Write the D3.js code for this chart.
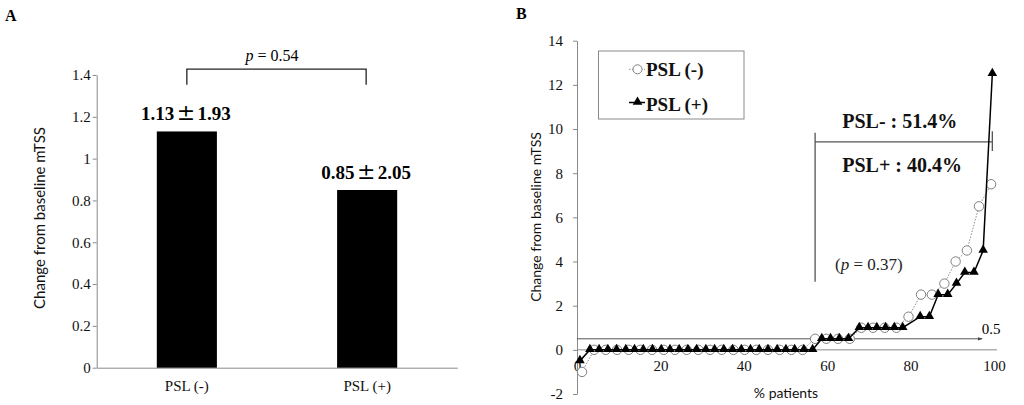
<!DOCTYPE html>
<html><head><meta charset="utf-8">
<script src="https://cdn.jsdelivr.net/npm/d3@7"></script>
<style>body{margin:0;background:#fff}svg{display:block}</style>
</head><body><svg id="c" width="1024" height="405"></svg>
<script>
// ---------- Panel A data ----------
const barCategories = ["PSL (-)", "PSL (+)"];
const barValues = [1.13, 0.85];
const barMeans = ["1.13", "0.85"];
const barSDs = ["1.93", "2.05"];
const barYTicks = [0, 0.2, 0.4, 0.6, 0.8, 1, 1.2, 1.4];
const pValueA = "0.54";

// ---------- Panel B data ----------
const pslMinusX = [1.2, 4.1, 6.9, 9.6, 12.4, 15.2, 18.0, 20.8, 23.5, 26.3, 29.1, 31.9, 34.7, 37.5, 40.2, 43.0, 45.8, 48.6, 51.4, 54.1,
  57.1, 59.8, 62.6, 65.4, 68.2, 71.0, 73.8, 76.6, 79.5, 82.5, 85.1, 88.1, 90.8, 93.5, 96.4, 99.3];
const pslMinusY = [-1, 0, 0, 0, 0, 0, 0, 0, 0, 0, 0, 0, 0, 0, 0, 0, 0, 0, 0, 0,
  0.5, 0.5, 0.5, 0.5, 1, 1, 1, 1, 1.5, 2.5, 2.5, 3, 4, 4.5, 6.5, 7.5];
const pslPlusX = [0.7, 3.1, 5.3, 7.4, 9.5, 11.7, 13.8, 15.9, 18.1, 20.2, 22.3, 24.5, 26.6, 28.7, 30.9, 33.0, 35.2, 37.3, 39.4, 41.6,
  43.7, 45.8, 48.0, 50.1, 52.2, 54.4, 56.5, 58.7, 60.8, 62.9, 65.1, 67.7, 69.8, 71.9, 74.0, 76.1, 78.1, 82.3, 84.5, 86.6,
  88.9, 91.0, 93.0, 95.2, 97.4, 99.6];
const pslPlusY = [-0.5, 0, 0, 0, 0, 0, 0, 0, 0, 0, 0, 0, 0, 0, 0, 0, 0, 0, 0, 0,
  0, 0, 0, 0, 0, 0, 0, 0.5, 0.5, 0.5, 0.5, 1, 1, 1, 1, 1, 1, 1.5, 1.5, 2.5,
  2.5, 3, 3.5, 3.5, 4.5, 12.5];
const curveXTicks = [0, 20, 40, 60, 80, 100];
const curveYTicks = [-2, 0, 2, 4, 6, 8, 10, 12, 14];
const seriesNames = ["PSL (-)", "PSL (+)"];
const threshold = 0.5;
const pctTexts = ["PSL- : 51.4%", "PSL+ : 40.4%"];
const pValueB = "0.37";

const svg = d3.select("#c");
const SERIF = "'Liberation Serif','Times New Roman',serif";
const SANS = "Lato,'Liberation Sans',sans-serif";
const AXIS = "#8a8a8a";

function styleAxis(g) {
  g.selectAll(".domain").attr("stroke", AXIS).attr("stroke-width", 1);
  g.selectAll(".tick line").attr("stroke", AXIS);
  g.selectAll(".tick text").attr("fill", "#111").style("font-family", SERIF).style("font-size", "15px");
}

// ================= Panel A =================
const yA = d3.scaleLinear().domain([0, 1.4]).range([367.7, 75]);
const xA = d3.scaleBand().domain(barCategories).range([96.7, 457.3]).paddingInner(0).paddingOuter(0);
const barW = xA.bandwidth() / 3;

svg.append("text").attr("x", 5).attr("y", 20.5).text("A")
  .style("font-family", SERIF).style("font-weight", "bold").style("font-size", "16px");

svg.append("g").attr("transform", "translate(96.7,0)")
  .call(d3.axisLeft(yA).tickValues(barYTicks).tickFormat(d => String(d)).tickSize(4).tickPadding(2).tickSizeOuter(0))
  .call(styleAxis);

svg.append("g").attr("transform", `translate(0,${yA(0)})`)
  .call(d3.axisBottom(xA).tickSize(0).tickPadding(13).tickSizeOuter(0))
  .call(styleAxis);

svg.append("g").selectAll("rect").data(barValues).join("rect")
  .attr("x", (d, i) => xA(barCategories[i]) + xA.bandwidth() / 2 - barW / 2)
  .attr("y", d => yA(d))
  .attr("width", barW)
  .attr("height", d => yA(0) - yA(d))
  .attr("fill", "#000");

const lbl = svg.append("g").selectAll("text").data(barValues).join("text")
  .attr("x", (d, i) => xA(barCategories[i]) + xA.bandwidth() / 2 - 1)
  .attr("y", d => yA(d) - 11)
  .attr("text-anchor", "middle")
  .style("font-family", SERIF).style("font-weight", "bold").style("font-size", "19px");
lbl.append("tspan").text((d, i) => barMeans[i]);
lbl.append("tspan").attr("dx", 2.5).style("font-size", "22px").style("font-family", "'DejaVu Serif',serif").style("font-weight", "normal").text("\u00b1");
lbl.append("tspan").attr("dx", 2.5).text((d, i) => barSDs[i]);

// bracket
const c1 = xA(barCategories[0]) + xA.bandwidth() / 2, c2 = xA(barCategories[1]) + xA.bandwidth() / 2;
svg.append("path")
  .attr("d", `M${c1},${yA(1.353)}V${yA(1.428)}H${c2 - 1}V${yA(1.353)}`)
  .attr("fill", "none").attr("stroke", "#222").attr("stroke-width", 1.3);
const pA = svg.append("text").attr("x", (c1 + c2) / 2 - 5).attr("y", 61)
  .attr("text-anchor", "middle").style("font-family", SERIF).style("font-size", "16px");
pA.append("tspan").style("font-style", "italic").text("p");
pA.append("tspan").text(" = " + pValueA);

svg.append("text")
  .attr("transform", `translate(45,218) rotate(-90)`)
  .attr("text-anchor", "middle")
  .style("font-family", SANS).style("font-size", "15px").attr("fill", "#111")
  .text("Change from baseline mTSS");

// ================= Panel B =================
const xB = d3.scaleLinear().domain([0, 100]).range([577, 994]);
const yB = d3.scaleLinear().domain([-2, 14]).range([394, 40.7]);

svg.append("text").attr("x", 516).attr("y", 18.5).text("B")
  .style("font-family", SERIF).style("font-weight", "bold").style("font-size", "16px");

svg.append("g").attr("transform", `translate(${xB(0)},0)`)
  .call(d3.axisLeft(yB).tickValues(curveYTicks).tickFormat(d => String(d)).tickSize(4).tickPadding(10).tickSizeOuter(0))
  .call(styleAxis);

const gx = svg.append("g").attr("transform", `translate(0,${yB(0)})`)
  .call(d3.axisBottom(xB).tickValues(curveXTicks).tickFormat(d => String(d)).tickSize(0).tickPadding(11).tickSizeOuter(0))
  .call(styleAxis);
gx.select(".domain").attr("d", `M${xB(0)},0H${xB(100) + 3}`);

svg.append("text")
  .attr("transform", `translate(541,217) rotate(-90)`)
  .attr("text-anchor", "middle")
  .style("font-family", SANS).style("font-size", "14px").attr("fill", "#111")
  .text("Change from baseline mTSS");
svg.append("text").attr("x", 786).attr("y", 398).attr("text-anchor", "middle")
  .style("font-family", SANS).style("font-size", "14px").attr("fill", "#111")
  .text("% patients");

// threshold arrow line
svg.append("defs").append("marker").attr("id", "arr")
  .attr("viewBox", "0 0 6 6").attr("refX", 5).attr("refY", 3)
  .attr("markerWidth", 5).attr("markerHeight", 5).attr("orient", "auto")
  .append("path").attr("d", "M0,1L6,3L0,5Z").attr("fill", "#444");
svg.append("line")
  .attr("x1", xB(0)).attr("x2", xB(97.1))
  .attr("y1", yB(threshold)).attr("y2", yB(threshold))
  .attr("stroke", "#555").attr("stroke-width", 1).attr("marker-end", "url(#arr)");
svg.append("text").attr("x", xB(99.3)).attr("y", yB(threshold) - 5).attr("text-anchor", "middle")
  .style("font-family", SERIF).style("font-size", "15px").text(String(threshold));

// annotation lines
const ax = 57.1;
svg.append("path")
  .attr("d", `M${xB(ax)},${yB(9.83)}V${yB(3.08)}M${xB(ax)},${yB(9.42)}H${xB(99.6)}M${xB(99.6)},${yB(9.9)}V${yB(9.0)}`)
  .attr("fill", "none").attr("stroke", "#555").attr("stroke-width", 1.3);
svg.append("g").selectAll("text").data(pctTexts).join("text")
  .attr("x", xB(63.6)).attr("y", (d, i) => i === 0 ? yB(10.05) : yB(8.07))
  .style("font-family", SERIF).style("font-weight", "bold").style("font-size", "20px").attr("fill", "#111")
  .text(d => d);
const pB = svg.append("text").attr("x", xB(61.9)).attr("y", yB(3.61))
  .style("font-family", SERIF).style("font-size", "17px").attr("fill", "#222");
pB.append("tspan").text("(");
pB.append("tspan").style("font-style", "italic").text("p");
pB.append("tspan").text(" = " + pValueB + ")");

// series
const minusPts = pslMinusX.map((x, i) => [x, pslMinusY[i]]);
const plusPts = pslPlusX.map((x, i) => [x, pslPlusY[i]]);
const line = d3.line().x(d => xB(d[0])).y(d => yB(d[1]));

svg.append("path").attr("d", line(minusPts)).attr("fill", "none")
  .attr("stroke", "#8c8c8c").attr("stroke-width", 1).attr("stroke-dasharray", "1.5,1.5");
svg.append("g").selectAll("circle").data(minusPts).join("circle")
  .attr("cx", d => xB(d[0])).attr("cy", d => yB(d[1])).attr("r", 4.7)
  .attr("fill", "#fff").attr("stroke", "#7f7f7f").attr("stroke-width", 1);

svg.append("path").attr("d", line(plusPts)).attr("fill", "none")
  .attr("stroke", "#000").attr("stroke-width", 1.5);
const tri = d3.symbol().type(d3.symbolTriangle).size(40);
svg.append("g").selectAll("path").data(plusPts).join("path")
  .attr("d", tri).attr("transform", d => `translate(${xB(d[0])},${yB(d[1]) - 0.5})`)
  .attr("fill", "#000");

// legend
svg.append("rect").attr("x", 598.5).attr("y", 51).attr("width", 145.5).attr("height", 68)
  .attr("fill", "#fff").attr("stroke", "#8a8a8a").attr("stroke-width", 1);
const lg = svg.append("g");
lg.append("line").attr("x1", 629).attr("x2", 645).attr("y1", 69.3).attr("y2", 69.3)
  .attr("stroke", "#8c8c8c").attr("stroke-dasharray", "1.5,1.5");
lg.append("circle").attr("cx", 637.5).attr("cy", 69.3).attr("r", 4.5)
  .attr("fill", "#fff").attr("stroke", "#7f7f7f");
lg.append("line").attr("x1", 629).attr("x2", 645).attr("y1", 102.5).attr("y2", 102.5)
  .attr("stroke", "#000").attr("stroke-width", 1.5);
lg.append("path").attr("d", tri).attr("transform", "translate(637.5,102)").attr("fill", "#000");
lg.selectAll("text").data(seriesNames).join("text")
  .attr("x", 646).attr("y", (d, i) => i === 0 ? 75.5 : 111)
  .style("font-family", SERIF).style("font-weight", "bold").style("font-size", "19px").attr("fill", "#111")
  .text(d => d);
</script>
</body></html>
